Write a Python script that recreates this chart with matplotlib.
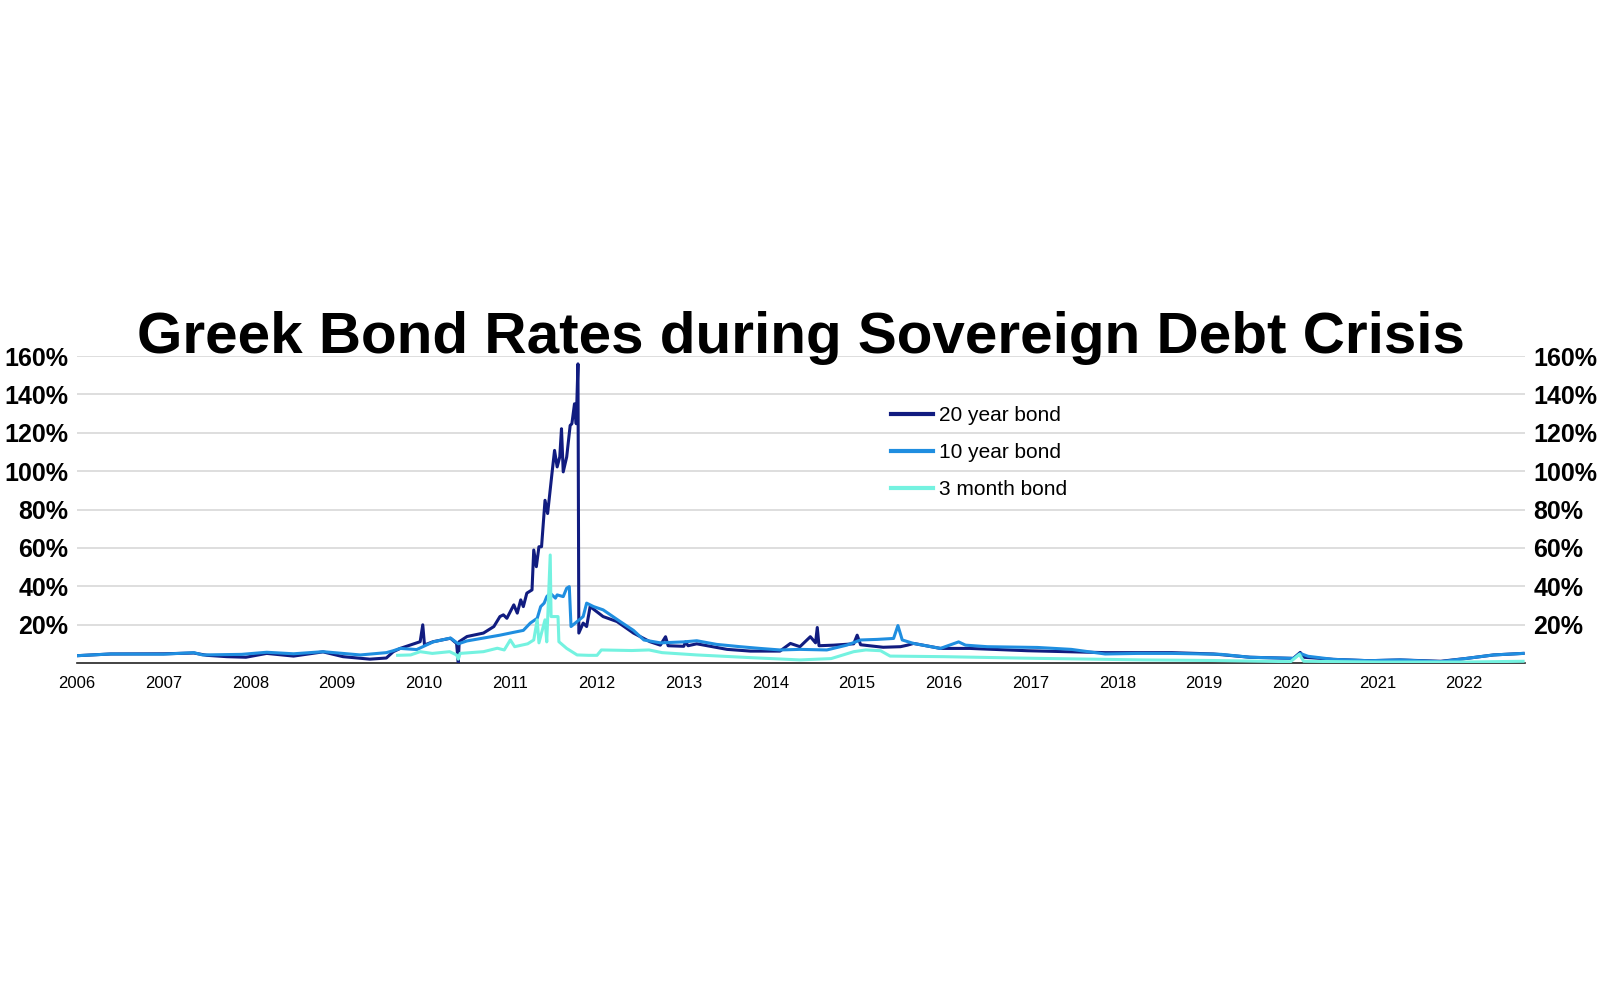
# -*- coding: utf-8 -*-
"""
Greek bond rates during the sovereign debt crisis - three yield series
"""

import matplotlib
matplotlib.use('Agg')
import matplotlib.pyplot as plt
from matplotlib.ticker import FuncFormatter

plt.rcParams['font.family'] = ['Liberation Sans', 'DejaVu Sans']

# values (year as decimal, rate in %)
years_20y = [2006.00, 2006.39, 2007.00, 2007.35, 2007.50, 2007.73, 2007.95, 2008.19,
             2008.50, 2008.84, 2009.07, 2009.38, 2009.57, 2009.65, 2009.73, 2009.96,
             2009.99, 2010.01, 2010.11, 2010.31, 2010.38, 2010.40, 2010.41, 2010.50,
             2010.69, 2010.81, 2010.88, 2010.92, 2010.96, 2011.04, 2011.08, 2011.12,
             2011.15, 2011.19, 2011.25, 2011.27, 2011.30, 2011.33, 2011.36, 2011.40,
             2011.43, 2011.48, 2011.51, 2011.54, 2011.57, 2011.59, 2011.61, 2011.65,
             2011.69, 2011.71, 2011.74, 2011.76, 2011.78, 2011.79, 2011.84, 2011.88,
             2011.92, 2012.07, 2012.23, 2012.42, 2012.61, 2012.73, 2012.79, 2012.82,
             2013.00, 2013.02, 2013.05, 2013.15, 2013.50, 2013.77, 2014.11, 2014.23,
             2014.34, 2014.46, 2014.52, 2014.54, 2014.56, 2014.73, 2014.96, 2015.00,
             2015.04, 2015.30, 2015.50, 2015.58, 2015.65, 2015.96, 2016.30, 2016.96,
             2017.86, 2018.63, 2019.11, 2019.53, 2020.03, 2020.11, 2020.15, 2020.49,
             2020.90, 2021.26, 2021.73, 2022.03, 2022.34, 2022.68]
rate_20y = [3.8, 4.7, 4.8, 5.2, 4.0, 3.3, 3.0, 5.0,
            3.6, 5.8, 3.3, 2.0, 2.6, 5.9, 7.6, 11.1,
            19.9, 9.4, 11.1, 12.9, 10.2, 0.2, 11.1, 13.8,
            15.6, 19.0, 24.2, 25.1, 23.3, 30.3, 26.0, 32.9,
            29.4, 36.4, 38.1, 58.9, 50.2, 60.6, 60.6, 84.8,
            77.9, 98.7, 110.8, 102.2, 107.4, 122.1, 99.6, 107.4,
            123.8, 124.7, 135.1, 124.7, 155.9, 15.6, 20.8, 19.0,
            29.4, 24.2, 21.6, 15.6, 11.1, 9.3, 13.7, 9.0,
            8.7, 11.0, 9.0, 10.0, 7.1, 6.2, 6.2, 10.2,
            8.5, 13.7, 10.5, 18.5, 9.0, 9.3, 10.0, 14.5,
            9.5, 8.2, 8.5, 9.3, 10.2, 7.6, 7.6, 6.4,
            5.4, 5.4, 4.7, 3.0, 2.4, 5.5, 3.0, 1.9,
            1.2, 1.6, 0.9, 2.4, 4.2, 5.0]

years_10y = [2006.00, 2006.39, 2007.00, 2007.35, 2007.45, 2007.90, 2008.19, 2008.50,
             2008.84, 2009.27, 2009.57, 2009.65, 2009.73, 2009.92, 2010.11, 2010.31,
             2010.40, 2010.50, 2010.69, 2010.88, 2011.04, 2011.15, 2011.23, 2011.31,
             2011.35, 2011.39, 2011.42, 2011.46, 2011.52, 2011.54, 2011.61, 2011.65,
             2011.68, 2011.70, 2011.77, 2011.84, 2011.88, 2011.96, 2012.07, 2012.27,
             2012.42, 2012.54, 2012.73, 2013.00, 2013.15, 2013.38, 2013.65, 2013.88,
             2014.11, 2014.34, 2014.65, 2014.88, 2015.04, 2015.23, 2015.42, 2015.47,
             2015.52, 2015.65, 2015.96, 2016.17, 2016.25, 2016.50, 2017.08, 2017.47,
             2017.86, 2018.24, 2018.63, 2019.02, 2019.20, 2019.53, 2020.03, 2020.11,
             2020.20, 2020.49, 2020.90, 2021.26, 2021.73, 2022.03, 2022.34, 2022.68]
rate_10y = [3.8, 4.7, 4.6, 5.4, 4.2, 4.5, 5.6, 4.8,
            5.9, 4.2, 5.4, 6.4, 7.6, 7.0, 11.0, 13.0,
            10.0, 11.5, 13.0, 14.5, 16.0, 17.0, 20.8, 23.3,
            29.4, 31.2, 34.6, 36.4, 33.8, 35.5, 34.6, 39.0,
            39.8, 19.0, 21.6, 24.2, 31.2, 29.4, 27.7, 21.5,
            17.0, 12.0, 10.5, 11.0, 11.6, 9.7, 8.5, 7.6,
            6.8, 7.1, 6.8, 9.3, 12.0, 12.3, 12.8, 19.5,
            12.0, 10.2, 7.6, 11.0, 9.3, 8.5, 8.1, 7.1,
            4.7, 5.0, 5.0, 4.7, 4.5, 3.0, 2.4, 5.0,
            3.5, 1.9, 1.2, 1.6, 0.7, 2.4, 4.2, 5.0]

years_3m = [2009.70, 2009.85, 2009.96, 2010.10, 2010.30, 2010.38, 2010.40, 2010.42,
            2010.69, 2010.85, 2010.93, 2011.00, 2011.05, 2011.20, 2011.27, 2011.31,
            2011.33, 2011.40, 2011.42, 2011.46, 2011.47, 2011.55, 2011.56, 2011.65,
            2011.77, 2011.90, 2012.00, 2012.05, 2012.40, 2012.60, 2012.75, 2013.15,
            2013.77, 2014.34, 2014.70, 2014.96, 2015.10, 2015.27, 2015.38, 2016.00,
            2017.10, 2017.86, 2018.30, 2019.10, 2020.00, 2020.10, 2020.15, 2021.00,
            2022.00, 2022.68]
rate_3m = [4.0, 4.2, 5.9, 5.0, 5.9, 4.2, 2.0, 5.0,
           5.9, 7.7, 6.8, 12.0, 8.5, 10.0, 12.0, 22.5,
           10.5, 22.5, 11.0, 56.3, 24.2, 24.2, 11.1, 7.6,
           4.2, 4.0, 4.0, 6.8, 6.5, 6.8, 5.4, 4.2,
           2.8, 1.6, 2.3, 5.9, 6.8, 6.4, 3.6, 3.3,
           2.4, 1.9, 1.6, 1.3, 0.7, 4.5, 0.9, 0.5,
           0.5, 0.9]

tick_years = list(range(2006, 2023))
y_ticks = [20, 40, 60, 80, 100, 120, 140, 160]

COLOR_20Y = '#111c80'
COLOR_10Y = '#1f8ee0'
COLOR_3M = '#74f2e0'


def main():
    fig = plt.figure(figsize=(16, 10), dpi=100)
    # axes box in pixels: x 77..1525, y 356..663
    ax = fig.add_axes([0.048, 0.337, 0.905, 0.307])

    ax.plot(years_20y, rate_20y, color=COLOR_20Y, lw=2.2, label='20 year bond', zorder=3)
    ax.plot(years_10y, rate_10y, color=COLOR_10Y, lw=2.2, label='10 year bond', zorder=4)
    ax.plot(years_3m, rate_3m, color=COLOR_3M, lw=2.2, label='3 month bond', zorder=5)

    ax.set_xlim(2006.0, 2022.70)
    ax.set_ylim(0, 160)

    ax.set_xticks(tick_years)
    ax.set_xticklabels([str(y) for y in tick_years], fontsize=12)
    ax.set_yticks(y_ticks)
    ax.yaxis.set_major_formatter(FuncFormatter(lambda v, _: f'{v:.0f}%'))
    ax.tick_params(axis='x', length=0, pad=9)
    ax.tick_params(axis='y', length=0, labelsize=18, labelright=True, pad=6)
    for lab in ax.get_yticklabels():
        lab.set_fontweight('bold')

    ax.yaxis.grid(True, color='#d8d8d8', lw=1.2, zorder=0)
    ax.set_axisbelow(True)
    for side in ['top', 'left', 'right']:
        ax.spines[side].set_visible(False)
    ax.spines['bottom'].set_color('#222222')
    ax.spines['bottom'].set_linewidth(1.2)

    leg = fig.legend(loc='upper left', bbox_to_anchor=(891 / 1600, 1 - 406 / 1000),
                     frameon=False, fontsize=15, handlelength=2.0, handletextpad=0.3,
                     labelspacing=0.86, borderpad=0, borderaxespad=0)
    for line in leg.get_lines():
        line.set_linewidth(3.0)

    fig.text(0.5006, 1 - 353 / 1000, 'Greek Bond Rates during Sovereign Debt Crisis',
             ha='center', va='baseline', fontsize=42, fontweight='bold')

    fig.savefig('out.png', dpi=100, facecolor='white')


if __name__ == '__main__':
    main()
